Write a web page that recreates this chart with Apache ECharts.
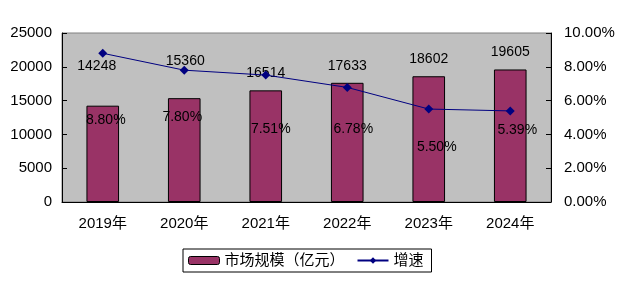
<!DOCTYPE html>
<html>
<head>
<meta charset="utf-8">
<script src="https://cdn.jsdelivr.net/npm/echarts@6/dist/echarts.min.js"></script>
<style>html,body{margin:0;padding:0;background:#fff}#c{width:626px;height:288px}</style>
</head>
<body>
<div id="c"></div>
<script>
var categories = ['2019年', '2020年', '2021年', '2022年', '2023年', '2024年'];
var marketSize = [14248, 15360, 16514, 17633, 18602, 19605];
var growthRate = [8.80, 7.80, 7.51, 6.78, 5.50, 5.39];
var leftTicks = { min: 0, max: 25000, interval: 5000 };
var rightTicks = { min: 0, max: 10, interval: 2 };

// label placement tweaks (style only)
var barLabelShift = [[-6, -23], [1, -20], [0, 0], [0, 0], [0, 0], [0, 0]];
var rateLabelShift = [[3, 67], [-2, 47], [5, 54], [6, 42], [8, 38], [7, 19]];

var FONT = "'Liberation Sans', Arial, 'Noto Sans CJK SC', sans-serif";
var chart = echarts.init(document.getElementById('c'), null, { renderer: 'canvas' });

chart.setOption({
  animation: false,
  textStyle: { fontFamily: FONT },
  grid: {
    left: 62, right: 75, top: 33, bottom: 86,
    show: true, backgroundColor: '#C0C0C0', borderColor: '#808080', borderWidth: 1
  },
  legend: {
    left: 183, top: 249,
    padding: [4, 8, 4, 5],
    backgroundColor: '#fff',
    borderColor: '#000', borderWidth: 1, borderRadius: 0,
    itemWidth: 31, itemHeight: 8, itemGap: 12,
    textStyle: { fontSize: 15, color: '#000', fontFamily: FONT },
    data: [
      { name: '市场规模（亿元）', itemStyle: { borderColor: '#000', borderWidth: 1 } },
      { name: '增速' }
    ]
  },
  xAxis: {
    type: 'category',
    data: categories,
    axisLine: { lineStyle: { color: '#000', width: 1 } },
    axisTick: { inside: true, length: 5, lineStyle: { color: '#000' } },
    axisLabel: { color: '#000', fontSize: 15, margin: 14, fontFamily: FONT },
    splitLine: { show: false }
  },
  yAxis: [
    {
      type: 'value', min: leftTicks.min, max: leftTicks.max, interval: leftTicks.interval,
      axisLine: { show: true, lineStyle: { color: '#000' } },
      axisTick: { show: true, inside: true, length: 5, lineStyle: { color: '#000' } },
      axisLabel: { color: '#000', fontSize: 15, margin: 10, fontFamily: FONT,
        formatter: function (v) { return String(v); } },
      splitLine: { show: false }
    },
    {
      type: 'value', min: rightTicks.min, max: rightTicks.max, interval: rightTicks.interval,
      axisLine: { show: true, lineStyle: { color: '#000' } },
      axisTick: { show: true, inside: true, length: 5, lineStyle: { color: '#000' } },
      axisLabel: { color: '#000', fontSize: 15, margin: 13, fontFamily: FONT,
        formatter: function (v) { return v.toFixed(2) + '%'; } },
      splitLine: { show: false }
    }
  ],
  series: [
    {
      name: '市场规模（亿元）',
      type: 'bar',
      yAxisIndex: 0,
      barWidth: '40%',
      itemStyle: { color: '#993366', borderColor: '#000', borderWidth: 1 },
      data: marketSize.map(function (v, i) {
        return { value: v, label: { offset: barLabelShift[i] } };
      }),
      label: { show: true, position: 'top', distance: 10, color: '#000', fontSize: 14, fontFamily: FONT }
    },
    {
      name: '增速',
      type: 'line',
      yAxisIndex: 1,
      symbol: 'diamond',
      symbolSize: 9,
      lineStyle: { color: '#000080', width: 1 },
      itemStyle: { color: '#000080' },
      data: growthRate.map(function (v, i) {
        return { value: v, label: { offset: rateLabelShift[i] } };
      }),
      label: { show: true, position: 'inside', color: '#000', fontSize: 14, fontFamily: FONT,
        formatter: function (p) { return p.value.toFixed(2) + '%'; } },
      z: 5
    }
  ]
});
</script>
</body>
</html>
